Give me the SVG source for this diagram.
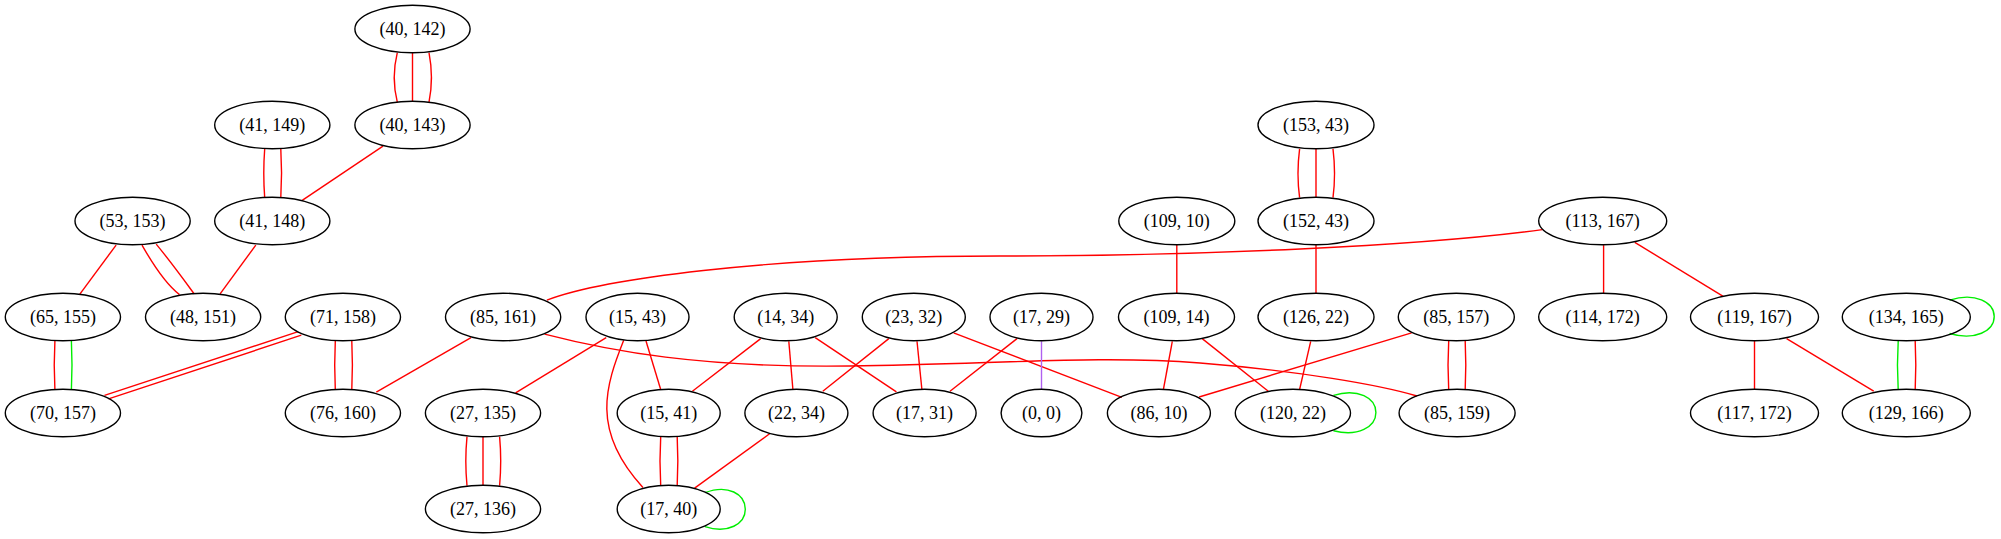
<svg xmlns="http://www.w3.org/2000/svg" width="2001" height="539" viewBox="0 0 2001 539">
<style>
.n ellipse{fill:none;stroke:#000;stroke-width:1.4}
.n text{font-family:"Liberation Serif","Times New Roman",serif;font-size:18px;fill:#000;text-anchor:middle}
#edges path,#edges line{fill:none;stroke-width:1.4}
.r{stroke:#ff0000}
.g{stroke:#00ee00}
.p{stroke:#b060f0}
</style>
<rect width="2001" height="539" fill="#fff"/>
<g id="edges">
<path class="r" d="M397.3,52.6 C393.5,68 393.5,87 397.3,102.1"/>
<line class="r" x1="412.5" y1="52.8" x2="412.5" y2="101.2"/>
<path class="r" d="M429,52.6 C432,68 432,87 429,102.1"/>
<path class="r" d="M264.7,148.8 C263.5,165 263.5,182 264.7,197.7"/>
<path class="r" d="M280.8,148.8 C281.8,165 281.8,182 280.8,197.7"/>
<line class="r" x1="383" y1="146.1" x2="302.2" y2="200.4"/>
<line class="r" x1="116.1" y1="245.1" x2="79.5" y2="294.6"/>
<path class="r" d="M142,245.1 C155,268 167,285 179.5,294.6"/>
<path class="r" d="M156.2,244.1 C171,262 184,280 194.2,293.9"/>
<line class="r" x1="255.8" y1="245.1" x2="220.1" y2="293.9"/>
<path class="r" d="M54.9,341 C54,357 54,373 54.9,389.5"/>
<path class="g" d="M71.4,341 C72.2,357 72.2,373 71.4,389.5"/>
<line class="r" x1="298.2" y1="331.7" x2="104.5" y2="395.3"/>
<line class="r" x1="301.3" y1="335.2" x2="108.5" y2="398.8"/>
<path class="r" d="M335.3,341 C334.5,357 334.5,373 335.3,389.5"/>
<path class="r" d="M351.8,341 C352.6,357 352.6,373 351.8,389.5"/>
<line class="r" x1="471" y1="337.6" x2="376.3" y2="392.2"/>
<path class="r" d="M546.9,300.1 C600,280 760,256 1000,256 C1200,256 1420,246 1542.4,229.6"/>
<path class="r" d="M544.6,334.1 C610,351 700,368 850,366 C1000,364 1100,355 1200,363 C1300,371 1380,385 1417,396"/>
<line class="r" x1="606.2" y1="337.6" x2="515.6" y2="392.9"/>
<line class="r" x1="646" y1="341" x2="660.7" y2="389.5"/>
<path class="r" d="M623.7,340.3 C606,385 590,430 642.9,487.5"/>
<path class="r" d="M467,436.6 C465.5,452 465.5,470 467,485.7"/>
<line class="r" x1="483" y1="436.8" x2="483" y2="485.4"/>
<path class="r" d="M499.6,436.6 C501,452 501,470 499.6,485.7"/>
<path class="r" d="M660.7,436.6 C659.8,452 659.8,470 660.7,485.7"/>
<path class="r" d="M677.2,436.6 C678,452 678,470 677.2,485.7"/>
<line class="r" x1="760.7" y1="338.6" x2="692.4" y2="391.2"/>
<line class="r" x1="788.8" y1="341.3" x2="792.9" y2="389.5"/>
<line class="r" x1="815.2" y1="337.6" x2="896.4" y2="391.9"/>
<line class="r" x1="888.8" y1="338.6" x2="822.8" y2="391.2"/>
<line class="r" x1="917" y1="341.3" x2="921.9" y2="389.5"/>
<line class="r" x1="953.6" y1="332.8" x2="1121.9" y2="397.4"/>
<line class="r" x1="1017" y1="338.6" x2="950" y2="391.2"/>
<line class="p" x1="1041.5" y1="341.3" x2="1041.5" y2="389.5"/>
<line class="r" x1="769.6" y1="433.8" x2="694.6" y2="488.1"/>
<path class="g" d="M705,492.7 C728,484 745.3,494 745.3,509.3 C745.3,524 728,534 705,526.7"/>
<line class="r" x1="1176.8" y1="245.1" x2="1176.8" y2="293.2"/>
<path class="r" d="M1299.6,148.8 C1297.5,165 1297.5,182 1299.6,197.7"/>
<line class="r" x1="1316" y1="149" x2="1316" y2="197.2"/>
<path class="r" d="M1333,148.8 C1335,165 1335,182 1333,197.7"/>
<line class="r" x1="1316" y1="245.1" x2="1316" y2="293.2"/>
<line class="r" x1="1172.3" y1="341.3" x2="1163.4" y2="389.5"/>
<line class="r" x1="1202.2" y1="338.6" x2="1268.3" y2="391.2"/>
<line class="r" x1="1310.7" y1="341.3" x2="1299.6" y2="389.5"/>
<path class="r" d="M1411.6,332.8 C1380,343 1300,367 1199.1,397"/>
<path class="r" d="M1448.7,341 C1447.8,357 1447.8,373 1448.7,389.5"/>
<path class="r" d="M1465.2,341 C1466,357 1466,373 1465.2,389.5"/>
<path class="g" d="M1333.5,395.3 C1358,388 1375.9,398 1375.9,412.5 C1375.9,427 1358,437 1333.5,430.7"/>
<line class="r" x1="1603.6" y1="245.1" x2="1603.6" y2="293.2"/>
<line class="r" x1="1634.8" y1="242.4" x2="1723.2" y2="296.3"/>
<line class="r" x1="1754.5" y1="341" x2="1754.5" y2="389.5"/>
<line class="r" x1="1786.6" y1="338.6" x2="1873.7" y2="391.2"/>
<path class="g" d="M1898.2,341 C1897.2,357 1897.2,373 1898.2,389.5"/>
<path class="r" d="M1915.2,341 C1916,357 1916,373 1915.2,389.5"/>
<path class="g" d="M1949.6,300.1 C1975,292 1994.2,302 1994.2,316.6 C1994.2,331 1975,341 1949.6,333.5"/>
</g>
<g id="n40_142" class="n"><ellipse cx="412.5" cy="29" rx="57.6" ry="23.8"/><text x="412.5" y="35">(40, 142)</text></g>
<g id="n40_143" class="n"><ellipse cx="412.5" cy="125" rx="57.6" ry="23.8"/><text x="412.5" y="131">(40, 143)</text></g>
<g id="n41_149" class="n"><ellipse cx="272.3" cy="125" rx="57.6" ry="23.8"/><text x="272.3" y="131">(41, 149)</text></g>
<g id="n41_148" class="n"><ellipse cx="272.3" cy="221" rx="57.6" ry="23.8"/><text x="272.3" y="227">(41, 148)</text></g>
<g id="n53_153" class="n"><ellipse cx="132.6" cy="221" rx="57.6" ry="23.8"/><text x="132.6" y="227">(53, 153)</text></g>
<g id="n65_155" class="n"><ellipse cx="62.9" cy="317" rx="57.6" ry="23.8"/><text x="62.9" y="323">(65, 155)</text></g>
<g id="n48_151" class="n"><ellipse cx="203.1" cy="317" rx="57.6" ry="23.8"/><text x="203.1" y="323">(48, 151)</text></g>
<g id="n71_158" class="n"><ellipse cx="342.9" cy="317" rx="57.6" ry="23.8"/><text x="342.9" y="323">(71, 158)</text></g>
<g id="n85_161" class="n"><ellipse cx="503.1" cy="317" rx="57.6" ry="23.8"/><text x="503.1" y="323">(85, 161)</text></g>
<g id="n15_43" class="n"><ellipse cx="637.5" cy="317" rx="51.5" ry="23.8"/><text x="637.5" y="323">(15, 43)</text></g>
<g id="n14_34" class="n"><ellipse cx="785.7" cy="317" rx="51.5" ry="23.8"/><text x="785.7" y="323">(14, 34)</text></g>
<g id="n23_32" class="n"><ellipse cx="913.8" cy="317" rx="51.5" ry="23.8"/><text x="913.8" y="323">(23, 32)</text></g>
<g id="n17_29" class="n"><ellipse cx="1041.5" cy="317" rx="51.5" ry="23.8"/><text x="1041.5" y="323">(17, 29)</text></g>
<g id="n109_10" class="n"><ellipse cx="1176.8" cy="221" rx="58" ry="23.8"/><text x="1176.8" y="227">(109, 10)</text></g>
<g id="n109_14" class="n"><ellipse cx="1176.5" cy="317" rx="58" ry="23.8"/><text x="1176.5" y="323">(109, 14)</text></g>
<g id="n153_43" class="n"><ellipse cx="1316" cy="125" rx="58" ry="23.8"/><text x="1316" y="131">(153, 43)</text></g>
<g id="n152_43" class="n"><ellipse cx="1316" cy="221" rx="58" ry="23.8"/><text x="1316" y="227">(152, 43)</text></g>
<g id="n126_22" class="n"><ellipse cx="1316" cy="317" rx="58" ry="23.8"/><text x="1316" y="323">(126, 22)</text></g>
<g id="n113_167" class="n"><ellipse cx="1602.7" cy="221" rx="64" ry="23.8"/><text x="1602.7" y="227">(113, 167)</text></g>
<g id="n85_157" class="n"><ellipse cx="1456.3" cy="317" rx="58" ry="23.8"/><text x="1456.3" y="323">(85, 157)</text></g>
<g id="n114_172" class="n"><ellipse cx="1602.7" cy="317" rx="64" ry="23.8"/><text x="1602.7" y="323">(114, 172)</text></g>
<g id="n119_167" class="n"><ellipse cx="1754.5" cy="317" rx="64" ry="23.8"/><text x="1754.5" y="323">(119, 167)</text></g>
<g id="n134_165" class="n"><ellipse cx="1906.3" cy="317" rx="64" ry="23.8"/><text x="1906.3" y="323">(134, 165)</text></g>
<g id="n70_157" class="n"><ellipse cx="62.9" cy="413" rx="57.6" ry="23.8"/><text x="62.9" y="419">(70, 157)</text></g>
<g id="n76_160" class="n"><ellipse cx="342.9" cy="413" rx="57.6" ry="23.8"/><text x="342.9" y="419">(76, 160)</text></g>
<g id="n27_135" class="n"><ellipse cx="483" cy="413" rx="57.6" ry="23.8"/><text x="483" y="419">(27, 135)</text></g>
<g id="n15_41" class="n"><ellipse cx="668.7" cy="413" rx="51.5" ry="23.8"/><text x="668.7" y="419">(15, 41)</text></g>
<g id="n22_34" class="n"><ellipse cx="796.4" cy="413" rx="51.5" ry="23.8"/><text x="796.4" y="419">(22, 34)</text></g>
<g id="n17_31" class="n"><ellipse cx="924.6" cy="413" rx="51.5" ry="23.8"/><text x="924.6" y="419">(17, 31)</text></g>
<g id="n0_0" class="n"><ellipse cx="1041.5" cy="413" rx="40.4" ry="23.8"/><text x="1041.5" y="419">(0, 0)</text></g>
<g id="n86_10" class="n"><ellipse cx="1158.9" cy="413" rx="51.5" ry="23.8"/><text x="1158.9" y="419">(86, 10)</text></g>
<g id="n120_22" class="n"><ellipse cx="1292.9" cy="413" rx="57.6" ry="23.8"/><text x="1292.9" y="419">(120, 22)</text></g>
<g id="n85_159" class="n"><ellipse cx="1457.1" cy="413" rx="58" ry="23.8"/><text x="1457.1" y="419">(85, 159)</text></g>
<g id="n117_172" class="n"><ellipse cx="1754.5" cy="413" rx="64" ry="23.8"/><text x="1754.5" y="419">(117, 172)</text></g>
<g id="n129_166" class="n"><ellipse cx="1906.3" cy="413" rx="64" ry="23.8"/><text x="1906.3" y="419">(129, 166)</text></g>
<g id="n27_136" class="n"><ellipse cx="483" cy="509" rx="57.6" ry="23.8"/><text x="483" y="515">(27, 136)</text></g>
<g id="n17_40" class="n"><ellipse cx="668.7" cy="509" rx="51.5" ry="23.8"/><text x="668.7" y="515">(17, 40)</text></g>
</svg>
